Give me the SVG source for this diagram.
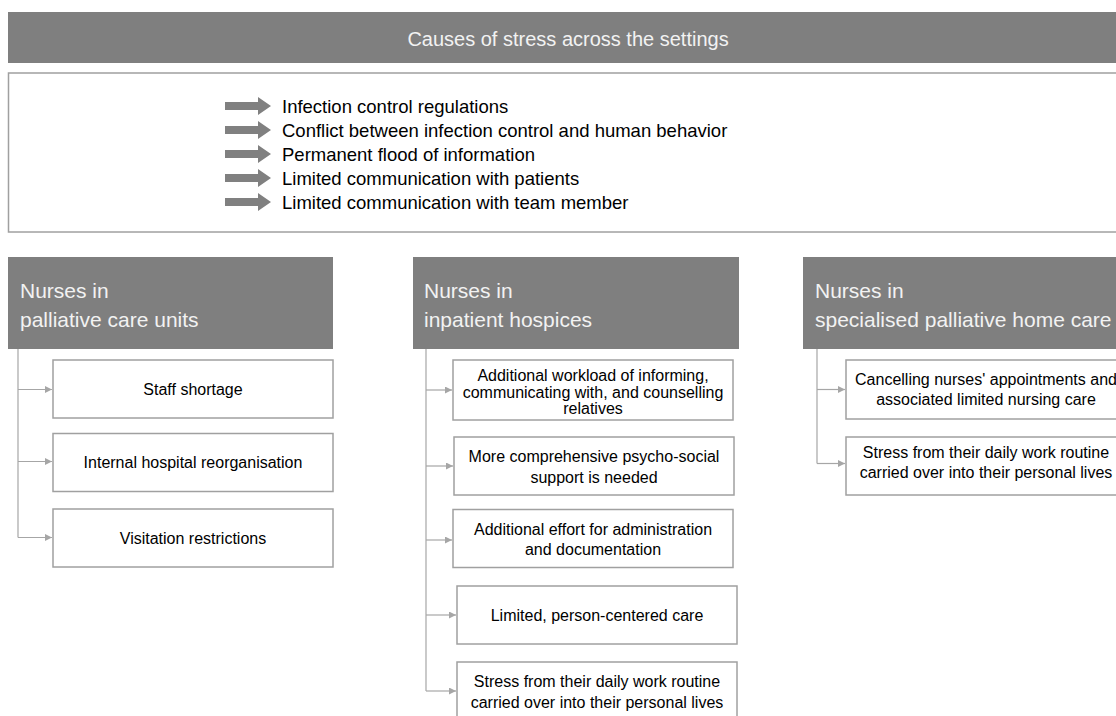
<svg xmlns="http://www.w3.org/2000/svg" xmlns:xlink="http://www.w3.org/1999/xlink" width="1116" height="716" viewBox="0 0 1116 716">
  <style>
    .band { fill: #7f7f7f; }
    .bandtxt { font-family: "Liberation Sans", Arial, sans-serif; font-size: 20px; fill: #f2f2f2; }
    .hdr { fill: #7f7f7f; }
    .hdrtxt { font-family: "Liberation Sans", Arial, sans-serif; font-size: 21px; fill: #f2f2f2; }
    .frame { fill: #ffffff; stroke: #a0a0a0; stroke-width: 1.5; }
    .box { fill: #ffffff; stroke: #a0a0a0; stroke-width: 1.5; }
    .txt { font-family: "Liberation Sans", Arial, sans-serif; font-size: 16px; fill: #000000; text-anchor: middle; }
    .list { font-family: "Liberation Sans", Arial, sans-serif; font-size: 18.5px; fill: #000000; }
    .conn { fill: none; stroke: #a6a6a6; stroke-width: 1.2; }
    .big { fill: #808080; }
  </style>
  <defs>
    <marker id="ah" markerUnits="userSpaceOnUse" markerWidth="8" markerHeight="8" refX="7" refY="3.5" orient="auto">
      <path d="M0,0 L7,3.5 L0,7 Z" fill="#a6a6a6"/>
    </marker>
    <path id="bigArrow" d="M225,-4 H258 V-9 L271,0 L258,9 V4 H225 Z"/>
  </defs>

  <rect width="1116" height="716" fill="#ffffff"/>

  <g id="title">
    <rect class="band" x="8" y="12" width="1120" height="51"/>
    <text class="bandtxt" x="568" y="46" text-anchor="middle">Causes of stress across the settings</text>
  </g>

  <g id="common-causes">
    <rect class="frame" x="8.5" y="73" width="1120" height="159"/>
    <use xlink:href="#bigArrow" class="big" transform="translate(0,106)"/>
    <use xlink:href="#bigArrow" class="big" transform="translate(0,130)"/>
    <use xlink:href="#bigArrow" class="big" transform="translate(0,154)"/>
    <use xlink:href="#bigArrow" class="big" transform="translate(0,178)"/>
    <use xlink:href="#bigArrow" class="big" transform="translate(0,202)"/>
    <text class="list" x="282" y="112.5">Infection control regulations</text>
    <text class="list" x="282" y="136.5">Conflict between infection control and human behavior</text>
    <text class="list" x="282" y="160.5">Permanent flood of information</text>
    <text class="list" x="282" y="184.5">Limited communication with patients</text>
    <text class="list" x="282" y="208.5">Limited communication with team member</text>
  </g>

  <g id="connectors">
    <path class="conn" d="M18,349 V537.5"/>
    <path class="conn" d="M18,389.5 H52" marker-end="url(#ah)"/>
    <path class="conn" d="M18,461.5 H52" marker-end="url(#ah)"/>
    <path class="conn" d="M18,537.5 H52" marker-end="url(#ah)"/>

    <path class="conn" d="M426,349 V691"/>
    <path class="conn" d="M426,390 H452" marker-end="url(#ah)"/>
    <path class="conn" d="M426,466 H453" marker-end="url(#ah)"/>
    <path class="conn" d="M426,540 H452" marker-end="url(#ah)"/>
    <path class="conn" d="M426,615 H456" marker-end="url(#ah)"/>
    <path class="conn" d="M426,691 H456" marker-end="url(#ah)"/>

    <path class="conn" d="M817,349 V463.5"/>
    <path class="conn" d="M817,389.5 H845" marker-end="url(#ah)"/>
    <path class="conn" d="M817,463.5 H845" marker-end="url(#ah)"/>
  </g>

  <g id="pcu-header">
    <rect class="hdr" x="8" y="257" width="325" height="92"/>
    <text class="hdrtxt" x="20" y="298">Nurses in</text>
    <text class="hdrtxt" x="20" y="327">palliative care units</text>
  </g>
  <g id="pcu-1">
    <rect class="box" x="53" y="360" width="280" height="58"/>
    <text class="txt" x="193" y="395">Staff shortage</text>
  </g>
  <g id="pcu-2">
    <rect class="box" x="53" y="433.5" width="280" height="58"/>
    <text class="txt" x="193" y="468">Internal hospital reorganisation</text>
  </g>
  <g id="pcu-3">
    <rect class="box" x="53" y="509" width="280" height="58"/>
    <text class="txt" x="193" y="543.5">Visitation restrictions</text>
  </g>

  <g id="hospice-header">
    <rect class="hdr" x="413" y="257" width="326" height="92"/>
    <text class="hdrtxt" x="424" y="298">Nurses in</text>
    <text class="hdrtxt" x="424" y="327">inpatient hospices</text>
  </g>
  <g id="hospice-1">
    <rect class="box" x="453" y="360" width="280" height="60"/>
    <text class="txt" x="593" y="380.5">Additional workload of informing,</text>
    <text class="txt" x="593" y="397.5">communicating with, and counselling</text>
    <text class="txt" x="593" y="414">relatives</text>
  </g>
  <g id="hospice-2">
    <rect class="box" x="454" y="437" width="280" height="58"/>
    <text class="txt" x="594" y="462">More comprehensive psycho-social</text>
    <text class="txt" x="594" y="482.5">support is needed</text>
  </g>
  <g id="hospice-3">
    <rect class="box" x="453" y="509.5" width="280" height="58"/>
    <text class="txt" x="593" y="534.5">Additional effort for administration</text>
    <text class="txt" x="593" y="555">and documentation</text>
  </g>
  <g id="hospice-4">
    <rect class="box" x="457" y="586" width="280" height="58"/>
    <text class="txt" x="597" y="620.5">Limited, person-centered care</text>
  </g>
  <g id="hospice-5">
    <rect class="box" x="457" y="662" width="280" height="56"/>
    <text class="txt" x="597" y="686.5">Stress from their daily work routine</text>
    <text class="txt" x="597" y="707.5">carried over into their personal lives</text>
  </g>

  <g id="home-header">
    <rect class="hdr" x="803" y="257" width="330" height="92"/>
    <text class="hdrtxt" x="815" y="298">Nurses in</text>
    <text class="hdrtxt" x="815" y="327">specialised palliative home care</text>
  </g>
  <g id="home-1">
    <rect class="box" x="846" y="360" width="282" height="59"/>
    <text class="txt" x="986" y="385">Cancelling nurses' appointments and</text>
    <text class="txt" x="986" y="404.5">associated limited nursing care</text>
  </g>
  <g id="home-2">
    <rect class="box" x="846" y="437" width="282" height="58"/>
    <text class="txt" x="986" y="457.5">Stress from their daily work routine</text>
    <text class="txt" x="986" y="477.5">carried over into their personal lives</text>
  </g>
</svg>
